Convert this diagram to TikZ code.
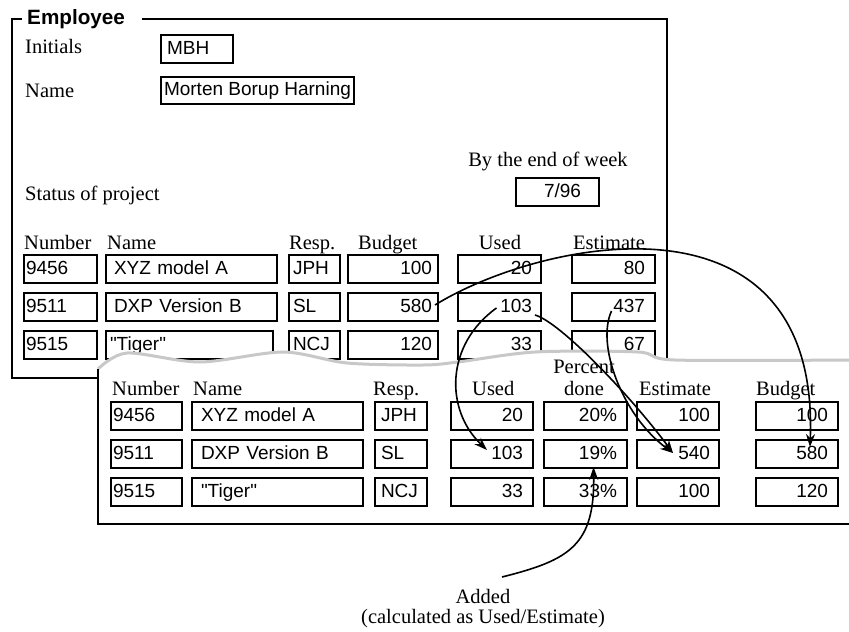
\documentclass[tikz,border=0pt]{standalone}
\usepackage{fontspec}
\setmainfont{Liberation Serif}
\newfontfamily\sanslab{Liberation Sans}
\usetikzlibrary{arrows.meta,calc}
\definecolor{tearGray}{RGB}{200,200,200}

\tikzset{
  lbl/.style={font=\fontsize{20.5pt}{24pt}\selectfont, inner sep=0pt, anchor=base west},
  fld/.style={draw, line width=1.8pt, rectangle, outer sep=0pt, inner ysep=0pt,
              minimum height=28pt, anchor=north west, text height=13pt, text depth=3pt,
              font=\sanslab\fontsize{19pt}{22pt}\selectfont},
  lft/.style 2 args={inner xsep=#1, text width=#2, align=left},
  rgt/.style 2 args={inner xsep=#1, text width=#2, align=right},
  frame/.style={line width=1.8pt},
  link/.style={line width=1.6pt, -{Stealth[length=13pt,width=9pt]}},
  tear/.style={line width=3pt, draw=tearGray, line join=round}
}
\def\tearline{(98,369) (127,353) (200,362) (283,352) (347,363) (423,365) (458,362) (535,352) (638,352) (675,360) (849,360)}

\begin{document}
\begin{tikzpicture}[x=1pt, y=-1pt]
\useasboundingbox (0,0) rectangle (849,632);

% ---------- Employee form ----------
\node[font=\sanslab\bfseries\fontsize{20.7pt}{24pt}\selectfont, inner sep=0pt, anchor=base west] (empl) at (27,24) {Employee};
\draw[frame] (22,19) -- (12,19) -- (12,378) -- (98,378);
\draw[frame] (142,19) -- (667,19) -- (667,378);

\node[lbl] (lInit) at (25,53) {Initials};
\node[fld, lft={6pt}{60pt}] (eIni) at (161,35) {MBH};
\node[lbl] (lName) at (25,97) {Name};
\node[fld, inner xsep=3pt, minimum width=192pt, minimum height=27pt] (eNam) at (161,77) {Morten Borup Harning};

\node[lbl, anchor=base] (lWeek) at (548,166) {By the end of week};
\node[fld, rgt={18pt}{47pt}] (week) at (516,178) {7/96};
\node[lbl] (lStat) at (25,200) {Status of project};

% column headings
\node[lbl] (thNum) at (24,249) {Number};
\node[lbl] (thNam) at (107,249) {Name};
\node[lbl] (thRes) at (289,249) {Resp.};
\node[lbl] (thBud) at (358,249) {Budget};
\node[lbl, anchor=base] (thUse) at (500,249) {Used};
\node[lbl] (thEst) at (573,249) {Estimate};

% project rows
\node[fld, lft={2pt}{69pt}]  (tNum1) at (24,255)  {9456};
\node[fld, lft={8pt}{155pt}] (tNam1) at (106,255) {XYZ model A};
\node[fld, lft={4pt}{43pt}]  (tRes1) at (289,255) {JPH};
\node[fld, rgt={6pt}{78pt}]  (tBud1) at (348,255) {100};
\node[fld, rgt={9pt}{65pt}]  (tUse1) at (458,255) {20};
\node[fld, rgt={10pt}{63pt}] (tEst1) at (572,255) {80};

\node[fld, lft={2pt}{69pt}]  (tNum2) at (24,293)  {9511};
\node[fld, lft={8pt}{155pt}] (tNam2) at (106,293) {DXP Version B};
\node[fld, lft={4pt}{43pt}]  (tRes2) at (289,293) {SL};
\node[fld, rgt={6pt}{78pt}]  (tBud2) at (348,293) {580};
\node[fld, rgt={9pt}{65pt}]  (tUse2) at (458,293) {103};
\node[fld, rgt={10pt}{63pt}] (tEst2) at (572,293) {437};

\node[fld, lft={2pt}{69pt}]  (tNum3) at (24,331)  {9515};
\node[fld, lft={4pt}{159pt}] (tNam3) at (106,331) {"Tiger"};
\node[fld, lft={4pt}{43pt}]  (tRes3) at (289,331) {NCJ};
\node[fld, rgt={6pt}{78pt}]  (tBud3) at (348,331) {120};
\node[fld, rgt={9pt}{65pt}]  (tUse3) at (458,331) {33};
\node[fld, rgt={10pt}{63pt}] (tEst3) at (572,331) {67};

% ---------- torn-off sheet lying on top ----------
\fill[white] plot[smooth, tension=0.5] coordinates {\tearline} -- (849,524) -- (98,524) -- cycle;
\draw[tear] plot[smooth, tension=0.5] coordinates {\tearline};
\draw[frame] (98,369) -- (98,524) -- (849,524);

\node[lbl] (bhNum) at (112,395) {Number};
\node[lbl] (bhNam) at (193,395) {Name};
\node[lbl] (bhRes) at (373,395) {Resp.};
\node[lbl] (bhUse) at (472,395) {Used};
\node[lbl, anchor=base] (bhPct) at (584,373) {Percent};
\node[lbl, anchor=base] (bhDone) at (584,395) {done};
\node[lbl] (bhEst) at (639,395) {Estimate};
\node[lbl] (bhBud) at (756,395) {Budget};

\node[fld, lft={2pt}{67pt}]  (bNum1) at (111,402) {9456};
\node[fld, lft={9pt}{153pt}] (bNam1) at (192,402) {XYZ model A};
\node[fld, lft={6pt}{40pt}]  (bRes1) at (375,402) {JPH};
\node[fld, rgt={10pt}{62pt}] (bUse1) at (451,402) {20};
\node[fld, rgt={10pt}{63pt}] (bPct1) at (544,402) {20\%};
\node[fld, rgt={9pt}{64pt}]  (bEst1) at (637,402) {100};
\node[fld, rgt={10pt}{62pt}] (bBud1) at (756,402) {100};

\node[fld, lft={2pt}{67pt}]  (bNum2) at (111,440) {9511};
\node[fld, lft={9pt}{153pt}] (bNam2) at (192,440) {DXP Version B};
\node[fld, lft={6pt}{40pt}]  (bRes2) at (375,440) {SL};
\node[fld, rgt={10pt}{62pt}] (bUse2) at (451,440) {103};
\node[fld, rgt={10pt}{63pt}] (bPct2) at (544,440) {19\%};
\node[fld, rgt={9pt}{64pt}]  (bEst2) at (637,440) {540};
\node[fld, rgt={10pt}{62pt}] (bBud2) at (756,440) {580};

\node[fld, lft={2pt}{67pt}]  (bNum3) at (111,478) {9515};
\node[fld, lft={9pt}{153pt}] (bNam3) at (192,478) {"Tiger"};
\node[fld, lft={6pt}{40pt}]  (bRes3) at (375,478) {NCJ};
\node[fld, rgt={10pt}{62pt}] (bUse3) at (451,478) {33};
\node[fld, rgt={10pt}{63pt}] (bPct3) at (544,478) {33\%};
\node[fld, rgt={9pt}{64pt}]  (bEst3) at (637,478) {100};
\node[fld, rgt={10pt}{62pt}] (bBud3) at (756,478) {120};

% ---------- note ----------
\node[lbl, anchor=base] (added) at (483,603) {Added};
\node[lbl, anchor=base] (calcNote) at (483,623) {(calculated as Used/Estimate)};
\coordinate (addStart) at (502,577);

% ---------- value moves ----------
\draw[link] ($(tBud2.east)+(-3,-2)$) .. controls (540,240) and (820,180) .. ($(bBud2.north)+(13,7)$);
\draw[link] ($(tUse2.center)+(-3,1)$) .. controls (445,345) and (445,410) .. ($(bUse2.north)+(-5,10)$);
\draw[link] ($(tUse2.east)+(-6,8)$) .. controls (560,322) and (630,395) .. ($(bEst2.west)+(36,-1)$);
\draw[link] ($(tEst2.center)+(-2,4)$) .. controls (596,345) and (622,415) .. ($(bEst2.west)+(36,-1)$);
\draw[link] (addStart) .. controls (570,560) and (595,545) .. ($(bPct2.south)+(8,-1)$);
\end{tikzpicture}
\end{document}
